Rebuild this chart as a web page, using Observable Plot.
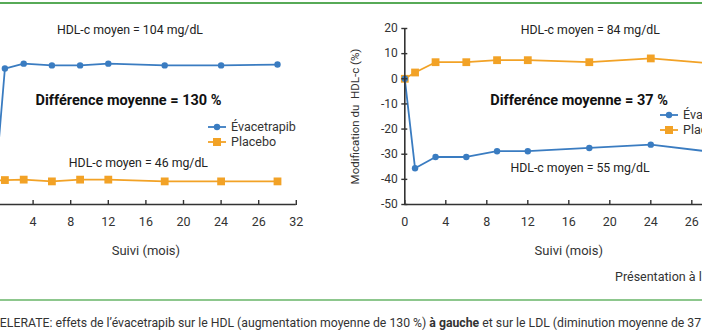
<!DOCTYPE html>
<html><head><meta charset="utf-8">
<script src="https://cdn.jsdelivr.net/npm/d3@7"></script>
<script src="https://cdn.jsdelivr.net/npm/@observablehq/plot@0.6"></script>
<style>
html,body{margin:0;padding:0;background:#fff;}
body{width:702px;height:336px;overflow:hidden;position:relative;font-family:Roboto,"Noto Sans",sans-serif;color:#333;}
#topline{position:absolute;left:0;top:2px;width:702px;height:2px;background:#57aa57;}
#sep{position:absolute;left:0;top:299px;width:702px;height:2px;background:#8dc78d;}
#left{position:absolute;left:-100px;top:0;width:460px;height:296px;}
#right{position:absolute;left:340px;top:0;width:420px;height:296px;}
#left svg,#right svg{max-width:none !important;}
.legend{position:absolute;font-size:12.5px;line-height:15px;color:#333;}
.legend div{display:flex;align-items:center;white-space:nowrap;}
.legend svg{margin-right:5px;}
#source{position:absolute;left:615px;top:269px;font-size:12.5px;white-space:nowrap;color:#333;}
#caption{position:absolute;left:-24px;top:316px;font-size:12.25px;white-space:nowrap;color:#333;}
</style></head><body>
<div id="topline"></div>
<div id="left"></div>
<div id="right"></div>
<div class="legend" id="legL" style="left:208px;top:119px;"></div>
<div class="legend" id="legR" style="left:660px;top:107px;"></div>
<div id="source"></div>
<div id="sep"></div>
<div id="caption"></div>
<script>
// ---- data ----
const months = [0, 1, 3, 6, 9, 12, 18, 24, 30];
const series = ["Évacetrapib", "Placebo"];
const leftEvac = [0, 126.5, 132, 130, 130, 132, 130, 130, 131];
const leftPlac = [0, 0.5, 1, -1, 1, 1, -1, -1, -1];
const rightEvac = [0, -35.6, -31.1, -31.1, -28.8, -28.8, -27.5, -26.2, -29.1];
const rightPlac = [0, 2.5, 6.6, 6.6, 7.4, 7.4, 6.6, 8.1, 6.1];
const xTicks = [0, 4, 8, 12, 16, 20, 24, 28, 32];
const xTickLabels = ["0", "4", "8", "12", "16", "20", "24", "26", "32"];
const yTicksRight = [-50, -40, -30, -20, -10, 0, 10, 20];
const xLabel = "Suivi (mois)";
const yLabelRight = "Modification du  HDL-c (%)";
const leftNotes = ["HDL-c moyen = 104 mg/dL", "HDL-c moyen = 46 mg/dL"];
const leftNoteMonth = [14.3, 15.2];
const leftNoteValue = [169.5, 19.2];
const leftBold = ["Différence moyenne = 130 %"];
const leftBoldMonth = [14.15];
const leftBoldValue = [90.4];
const rightNotes = ["HDL-c moyen = 84 mg/dL", "HDL-c moyen = 55 mg/dL"];
const rightNoteMonth = [18.1, 17.1];
const rightNoteValue = [19.3, -35.6];
const rightBold = ["Differénce moyenne = 37 %"];
const rightBoldMonth = [17.0];
const rightBoldValue = [-8.5];
const sourceText = "Présentation à l'ACC 2016";

const BLUE = "#3a7cc1", ORANGE = "#f2a226", INK = "#333";

function panel({evac, plac, yDomain, width, marginLeft, marginRight, yTicks, yLabel, notes, noteM, noteV, bold, boldM, boldV}) {
  const H = 296;
  const marginTop = 28;
  const data = months.flatMap((m, i) => [
    {m, v: plac[i], s: series[1]},
    {m, v: evac[i], s: series[0]}
  ]);
  const ymin = yDomain[0];
  const marks = [
    Plot.line(data.filter(d => d.s === series[1]), {x: "m", y: "v", stroke: ORANGE, strokeWidth: 1.8}),
    Plot.dot(data.filter(d => d.s === series[1]), {x: "m", y: "v", symbol: "square", r: 4.4, fill: ORANGE, stroke: null}),
    Plot.line(data.filter(d => d.s === series[0]), {x: "m", y: "v", stroke: BLUE, strokeWidth: 1.8}),
    Plot.dot(data.filter(d => d.s === series[0]), {x: "m", y: "v", symbol: "circle", r: 3.2, fill: BLUE, stroke: null}),
    Plot.ruleY([ymin], {x1: xTicks[0], x2: xTicks[xTicks.length - 1], stroke: INK, strokeWidth: 1.6}),
    Plot.ruleX(xTicks, {x: d => d, y1: ymin, y2: ymin, insetTop: 1, insetBottom: 4, stroke: INK, strokeWidth: 1.4}),
    Plot.text(xTicks, {x: d => d, y: ymin, text: (d, i) => xTickLabels[i], dy: 17, fill: INK, fontSize: 12.5}),
    Plot.text([xLabel], {x: (xTicks[0] + xTicks[xTicks.length - 1]) / 2, y: ymin, text: d => d, dy: 46, fill: INK, fontSize: 13}),
    Plot.ruleX([0], {y1: yDomain[0], y2: yDomain[1], stroke: INK, strokeWidth: 1.6}),
    Plot.text(notes, {x: (d, i) => noteM[i], y: (d, i) => noteV[i], text: d => d, fill: "#222", fontSize: 12.3}),
    Plot.text(bold, {x: (d, i) => boldM[i], y: (d, i) => boldV[i], text: d => d, fill: "#111", fontSize: 14.5, fontWeight: "bold"})
  ];
  if (yTicks) {
    marks.push(
      Plot.ruleY(yTicks, {y: d => d, x1: 0, x2: 0, insetLeft: 3, insetRight: 3, stroke: INK, strokeWidth: 1.4}),
      Plot.text(yTicks, {x: 0, y: d => d, text: d => String(d), dx: -7, textAnchor: "end", fill: INK, fontSize: 12}),
      Plot.text([yLabel], {frameAnchor: "left", text: d => d, dx: -49, rotate: -90, textAnchor: "middle", fill: INK, fontSize: 11.5})
    );
  }
  return Plot.plot({
    width, height: H, marginTop, marginBottom: H - 204, marginLeft, marginRight,
    x: {domain: [xTicks[0], xTicks[xTicks.length - 1]], axis: null},
    y: {domain: yDomain, axis: null},
    style: {fontFamily: "Roboto, 'Noto Sans', sans-serif", background: "transparent", overflow: "visible", maxWidth: "none"},
    marks
  });
}

document.getElementById("left").append(panel({
  evac: leftEvac, plac: leftPlac, yDomain: [-27.1, 171.7], width: 460, marginLeft: 95, marginRight: 64.2,
  notes: leftNotes, noteM: leftNoteMonth, noteV: leftNoteValue,
  bold: leftBold, boldM: leftBoldMonth, boldV: leftBoldValue
}));
document.getElementById("right").append(panel({
  evac: rightEvac, plac: rightPlac, yDomain: [-50, 20], width: 420, marginLeft: 64.3, marginRight: 27.7,
  yTicks: yTicksRight, yLabel: yLabelRight,
  notes: rightNotes, noteM: rightNoteMonth, noteV: rightNoteValue,
  bold: rightBold, boldM: rightBoldMonth, boldV: rightBoldValue
}));

function legend(el) {
  const colors = [BLUE, ORANGE];
  series.forEach((s, i) => {
    const row = document.createElement("div");
    const mk = i === 0
      ? `<circle cx="9" cy="5" r="3.2" fill="${colors[i]}"/>`
      : `<rect x="5" y="1" width="8" height="8" fill="${colors[i]}"/>`;
    row.innerHTML = `<svg width="18" height="10"><line x1="0" x2="18" y1="5" y2="5" stroke="${colors[i]}" stroke-width="1.8"/>${mk}</svg><span>${s}</span>`;
    el.append(row);
  });
}
legend(document.getElementById("legL"));
legend(document.getElementById("legR"));
document.getElementById("source").textContent = sourceText;
document.getElementById("caption").innerHTML = "ACCELERATE: effets de l’évacetrapib sur le HDL (augmentation moyenne de 130 %) <b>à gauche</b> et sur le LDL (diminution moyenne de 37 %) à droite.";
</script>
</body></html>
